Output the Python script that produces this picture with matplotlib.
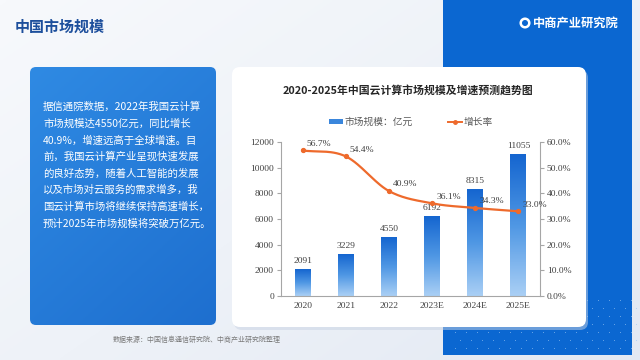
import numpy as np
import matplotlib
matplotlib.use("Agg")
import matplotlib.pyplot as plt
from matplotlib.patches import FancyBboxPatch, Rectangle
from matplotlib.colors import LinearSegmentedColormap
from matplotlib.lines import Line2D

plt.rcParams['font.family'] = ['Noto Sans CJK SC', 'DejaVu Sans']

# ---- data ----
categories = ['2020', '2021', '2022', '2023E', '2024E', '2025E']
market_size = [2091, 3229, 4550, 6192, 8315, 11055]
growth_rate = [56.7, 54.4, 40.9, 36.1, 34.3, 33.0]
left_ticks = [0, 2000, 4000, 6000, 8000, 10000, 12000]
right_ticks = [0, 10, 20, 30, 40, 50, 60]

page_title = '中国市场规模'
chart_title = '2020-2025年中国云计算市场规模及增速预测趋势图'
legend_labels = ['市场规模：亿元', '增长率']
logo_text = '中商产业研究院'
source_text = '数据来源：中国信息通信研究院、中商产业研究院整理'
body_lines = [
    '据信通院数据，2022年我国云计算',
    '市场规模达4550亿元，同比增长',
    '40.9%，增速远高于全球增速。目',
    '前，我国云计算产业呈现快速发展',
    '的良好态势，随着人工智能的发展',
    '以及市场对云服务的需求增多，我',
    '国云计算市场将继续保持高速增长，',
    '预计2025年市场规模将突破万亿元。',
]

SERIF = ['Liberation Serif', 'DejaVu Serif']
TXT = '#404040'
AXC = '#a6a6a6'
LINEC = '#ee6a2c'

fig = plt.figure(figsize=(6.4, 3.6), dpi=100)

# ---- background layer in pixel coordinates ----
bg = fig.add_axes([0, 0, 1, 1])
bg.set_xlim(0, 640)
bg.set_ylim(360, 0)
bg.axis('off')
gx = np.linspace(0, 1, 200)
gy = np.linspace(0, 1, 120)
GX, GY = np.meshgrid(gx, gy)
val = 0.55 * GX + 0.45 * GY
bgcmap = LinearSegmentedColormap.from_list('bg', ['#f7f9fc', '#eef2f8', '#e3e9f3'])
bg.imshow(val, cmap=bgcmap, extent=[0, 640, 360, 0], aspect='auto', zorder=0)

# right blue panel
bg.add_patch(Rectangle((443, 0), 189, 355, facecolor='#0b67d1', edgecolor='none', zorder=1))
rng_dots_x = np.arange(455, 632, 11)
for i, yy in enumerate(np.arange(300, 355, 8)):
    bg.scatter(rng_dots_x + (i % 2) * 5, np.full(len(rng_dots_x), yy), s=0.6,
               color='#9cc8f5', alpha=0.7, zorder=1.5, linewidths=0)

# page title
bg.text(15, 27, page_title, fontsize=10.8, fontweight='bold', color='#1d4f9c',
        va='center', ha='left', zorder=3)

# logo
bg.text(533, 23, logo_text, fontsize=8.8, fontweight='bold', color='white',
        va='center', ha='left', zorder=3)
bg.scatter([525], [23], s=38, facecolor='none', edgecolor='white', linewidths=1.8, zorder=3)

# left blue text box with gradient
box = FancyBboxPatch((30, 67), 186, 258, boxstyle='round,pad=0,rounding_size=6',
                     facecolor='none', edgecolor='none', zorder=2)
bg.add_patch(box)
bcmap = LinearSegmentedColormap.from_list('bx', ['#2f8ae3', '#1e6fcf'])
bv = 0.6 * GY + 0.4 * GX
im = bg.imshow(bv, cmap=bcmap, extent=[30, 216, 325, 67], aspect='auto', zorder=2)
im.set_clip_path(box)
for i, line in enumerate(body_lines):
    bg.text(43, 107 + i * 16.6, line, fontsize=7.5, color='white', va='center',
            ha='left', zorder=3)

# white chart card with shadow
bg.add_patch(FancyBboxPatch((234, 70), 354, 260, boxstyle='round,pad=0,rounding_size=8',
                            facecolor='#c9d3e3', edgecolor='none', alpha=0.5, zorder=1.8))
bg.add_patch(FancyBboxPatch((232, 67), 354, 260, boxstyle='round,pad=0,rounding_size=8',
                            facecolor='white', edgecolor='none', zorder=2))

# chart title
bg.text(408, 90, chart_title, fontsize=7.8, fontweight='bold', color='#262626',
        ha='center', va='center', zorder=3)

# source
bg.text(113, 340, source_text, fontsize=5, color='#7a7a7a', ha='left', va='center', zorder=3)

# ---- chart ----
ax = fig.add_axes([281 / 640, (360 - 296) / 360, (540 - 281) / 640, (296 - 142) / 360])
ax.set_facecolor('none')
x = np.arange(len(categories))
w = 0.37
barcmap = LinearSegmentedColormap.from_list('bar', ['#a9cff5', '#4f97e4', '#1566d0'])
grad = np.linspace(0, 1, 100).reshape(-1, 1)
bars = ax.bar(x, market_size, width=w, color='none', edgecolor='none', zorder=2)
for b in bars:
    x0 = b.get_x()
    h = b.get_height()
    ax.imshow(grad, cmap=barcmap, origin='lower', aspect='auto',
              extent=[x0, x0 + w, 0, h], zorder=2)
for xi, v in zip(x, market_size):
    ax.annotate(f'{v}', (xi, v), xytext=(0, 3), textcoords='offset points',
                ha='center', va='bottom', fontsize=6.8, color=TXT, family=SERIF, zorder=4)
ax.set_xlim(-0.5, len(categories) - 0.5)
ax.set_ylim(0, 12000)
ax.set_yticks(left_ticks)
ax.set_yticklabels([str(t) for t in left_ticks], family=SERIF, fontsize=6.8, color=TXT)
ax.set_xticks(x)
ax.set_xticklabels(categories, family=SERIF, fontsize=6.8, color=TXT)
for s in ['top', 'right']:
    ax.spines[s].set_visible(False)
for s in ['left', 'bottom']:
    ax.spines[s].set_color(AXC)
    ax.spines[s].set_linewidth(0.8)
ax.tick_params(axis='y', length=3, width=0.8, color=AXC, pad=2)
ax.tick_params(axis='x', length=0, pad=4)

ax2 = ax.twinx()
ax2.set_ylim(0, 60)
ax2.set_yticks(right_ticks)
ax2.set_yticklabels([f'{t:.1f}%' for t in right_ticks], family=SERIF, fontsize=6.8, color=TXT)
for s in ['top', 'left', 'bottom']:
    ax2.spines[s].set_visible(False)
ax2.spines['right'].set_color(AXC)
ax2.spines['right'].set_linewidth(0.8)
ax2.tick_params(axis='y', length=3, width=0.8, color=AXC, pad=2)

# smooth curve (cubic Hermite through data points)
xs = x.astype(float)
ys = np.array(growth_rate, dtype=float)
m = np.gradient(ys, xs)
px, py = [], []
for i in range(len(xs) - 1):
    t = np.linspace(0, 1, 30)
    h00 = 2 * t**3 - 3 * t**2 + 1
    h10 = t**3 - 2 * t**2 + t
    h01 = -2 * t**3 + 3 * t**2
    h11 = t**3 - t**2
    dx = xs[i + 1] - xs[i]
    px.extend(xs[i] + t * dx)
    py.extend(h00 * ys[i] + h10 * dx * m[i] + h01 * ys[i + 1] + h11 * dx * m[i + 1])
ax2.plot(px, py, color=LINEC, lw=1.6, zorder=3, solid_capstyle='round')
ax2.plot(xs, ys, 'o', color=LINEC, ms=2.8, zorder=3)
for xi, v in zip(xs, ys):
    ax2.annotate(f'{v:.1f}%', (xi, v), xytext=(3, 2), textcoords='offset points',
                 ha='left', va='bottom', fontsize=6.8, color=TXT, family=SERIF, zorder=4)

# legend
handles = [Rectangle((0, 0), 1, 1, facecolor='#3a86dc', edgecolor='none'),
           Line2D([0], [0], color=LINEC, lw=1.4, marker='o', ms=2.5)]
leg = fig.legend(handles, legend_labels, loc='center', bbox_to_anchor=(411 / 640, 1 - 122 / 360),
                 ncol=2, frameon=False, handlelength=1.4, handleheight=0.45, columnspacing=3.6,
                 handletextpad=0.2, prop={'size': 7})
for t in leg.get_texts():
    t.set_color('#595959')

fig.savefig('out.png', dpi=100)
